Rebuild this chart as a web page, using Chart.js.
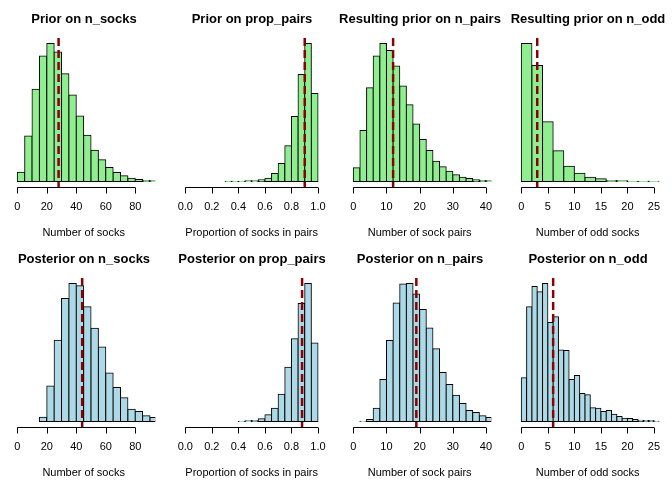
<!DOCTYPE html>
<html>
<head>
<meta charset="utf-8">
<script src="https://cdn.jsdelivr.net/npm/chart.js@4.4.0/dist/chart.umd.min.js"></script>
<style>
  html, body { margin: 0; padding: 0; background: #fff; }
  #wrap { position: relative; width: 672px; height: 480px; }
  #wrap canvas { position: absolute; }
</style>
</head>
<body>
<div id="wrap"></div>
<script>
// histogram counts (relative heights)
const priorSocks = [28, 137, 277, 377, 415, 389, 324, 260, 197, 139, 94, 65, 42, 27, 17, 10, 6, 3, 2];
const priorProp = [1, 1, 1, 2, 2, 5, 10, 24, 54, 107, 195, 321, 414, 264];
const priorPairs = [41, 153, 282, 377, 415, 394, 347, 287, 231, 173, 126, 93, 61, 44, 31, 20, 13, 9, 5, 3, 2];
const priorOdd = [414, 348, 179, 92, 46, 25, 13, 8, 3, 2, 1, 1, 1];
const postSocks = [13, 107, 244, 370, 415, 408, 345, 280, 224, 146, 102, 71, 37, 30, 17, 12];
const postProp = [1, 2, 3, 8, 20, 40, 82, 163, 249, 355, 415, 236];
const postPairs = [1, 6, 40, 126, 243, 355, 412, 414, 382, 336, 280, 218, 147, 111, 79, 54, 33, 27, 17, 12];
const postOdd = [131, 344, 405, 389, 414, 297, 314, 214, 213, 126, 138, 84, 80, 41, 40, 30, 33, 22, 15, 10, 9, 6, 4, 3, 3, 1];

const binStart = [0, 0.3, 0, 0, 15, 0.4, 2, 0];
const binWidth = [5, 0.05, 2, 2, 5, 0.05, 2, 1];
const medians = [28, 0.9, 12, 3, 44, 0.88, 19, 6];
const xMax = [90, 1, 40, 25, 90, 1, 40, 25];

const socksTicks = [0, 20, 40, 60, 80];
const propTicks = [0, 0.2, 0.4, 0.6, 0.8, 1.0];
const pairsTicks = [0, 10, 20, 30, 40];
const oddTicks = [0, 5, 10, 15, 20, 25];

const titles = ['Prior on n_socks', 'Prior on prop_pairs', 'Resulting prior on n_pairs', 'Resulting prior on n_odd',
                'Posterior on n_socks', 'Posterior on prop_pairs', 'Posterior on n_pairs', 'Posterior on n_odd'];
const xLabels = ['Number of socks', 'Proportion of socks in pairs', 'Number of sock pairs', 'Number of odd socks'];

const counts = [priorSocks, priorProp, priorPairs, priorOdd, postSocks, postProp, postPairs, postOdd];
const tickSets = [socksTicks, propTicks, pairsTicks, oddTicks];

Chart.defaults.font.family = '"Liberation Sans", Arial, sans-serif';
Chart.defaults.color = '#000';

// base R look: median abline, axis line that stops at the outer ticks, tick marks
const rStyle = {
    id: 'rStyle',
    afterDatasetsDraw(chart, args, opts) {
        const {ctx, chartArea: a, scales: {x}} = chart;
        const px = x.getPixelForValue(opts.median);
        ctx.save();
        ctx.beginPath();
        ctx.rect(a.left, a.top, a.right - a.left, a.bottom - a.top + 1);
        ctx.clip();
        ctx.strokeStyle = '#8B0000';
        ctx.lineWidth = 2.5;
        ctx.setLineDash([8, 4]);
        ctx.beginPath();
        ctx.moveTo(px, a.top);
        ctx.lineTo(px, a.bottom + 1);
        ctx.stroke();
        ctx.restore();
    },
    afterDraw(chart, args, opts) {
        const {ctx, chartArea: a, scales: {x}} = chart;
        const t = opts.ticks;
        const y = Math.round(a.bottom) + 0.5;
        ctx.save();
        ctx.strokeStyle = '#000';
        ctx.lineWidth = 1;
        ctx.beginPath();
        ctx.moveTo(x.getPixelForValue(t[0]), y);
        ctx.lineTo(x.getPixelForValue(t[t.length - 1]), y);
        t.forEach(v => {
            const px = Math.round(x.getPixelForValue(v)) + 0.5;
            ctx.moveTo(px, y);
            ctx.lineTo(px, y + 6);
        });
        ctx.stroke();
        ctx.restore();
    }
};

const wrap = document.getElementById('wrap');

for (let i = 0; i < 8; i++) {
    const col = i % 4;
    const row = Math.floor(i / 4);
    const canvas = document.createElement('canvas');
    canvas.width = 168;
    canvas.height = 240;
    canvas.style.left = (col * 168) + 'px';
    canvas.style.top = (row * 240) + 'px';
    wrap.appendChild(canvas);

    const c = counts[i];
    const data = c.map((v, k) => ({x: binStart[i] + binWidth[i] * (k + 0.5), y: v}));
    const ym = Math.max(...c);
    const xm = xMax[i];
    const ticks = tickSets[col];
    const isProp = col === 1;

    new Chart(canvas, {
        type: 'bar',
        data: {
            datasets: [{
                data: data,
                yAxisID: 'y',
                backgroundColor: row === 0 ? '#90EE90' : '#ADD8E6',
                borderColor: '#000',
                borderWidth: 1,
                borderSkipped: false,
                inflateAmount: 0.5,
                barPercentage: 1,
                categoryPercentage: 1,
                clip: 0
            }]
        },
        options: {
            responsive: false,
            animation: false,
            events: [],
            layout: { padding: 0 },
            plugins: {
                legend: { display: false },
                tooltip: { enabled: false },
                title: {
                    display: true,
                    text: titles[i],
                    color: '#000',
                    font: { size: 13, weight: 'bold' },
                    padding: { top: 11.7, bottom: 10.6 }
                },
                rStyle: { median: medians[i], ticks: ticks }
            },
            scales: {
                x: {
                    type: 'linear',
                    offset: false,
                    min: -0.04 * xm,
                    max: 1.04 * xm,
                    afterBuildTicks: s => { s.ticks = ticks.map(v => ({value: v})); },
                    ticks: {
                        padding: 7,
                        color: '#000',
                        font: { size: 11 },
                        autoSkip: false,
                        maxRotation: 0,
                        callback: v => isProp ? v.toFixed(1) : String(v)
                    },
                    // tick marks drawn by rStyle, keep the space for them here
                    grid: { drawOnChartArea: false, drawTicks: true, tickLength: 6, tickColor: 'rgba(0,0,0,0)', color: 'rgba(0,0,0,0)' },
                    border: { display: false },
                    title: {
                        display: true,
                        text: xLabels[col],
                        color: '#000',
                        font: { size: 11 },
                        padding: { top: 6.6, bottom: 0 }
                    }
                },
                y: {
                    type: 'linear',
                    min: -0.04 * ym,
                    max: 1.04 * ym,
                    afterFit: s => { s.width = 12; },
                    ticks: { display: false },
                    grid: { display: false },
                    border: { display: false }
                },
                y2: {
                    type: 'linear',
                    position: 'right',
                    afterFit: s => { s.width = 12.7; },
                    ticks: { display: false },
                    grid: { display: false },
                    border: { display: false }
                }
            }
        },
        plugins: [rStyle]
    });
}
</script>
</body>
</html>
